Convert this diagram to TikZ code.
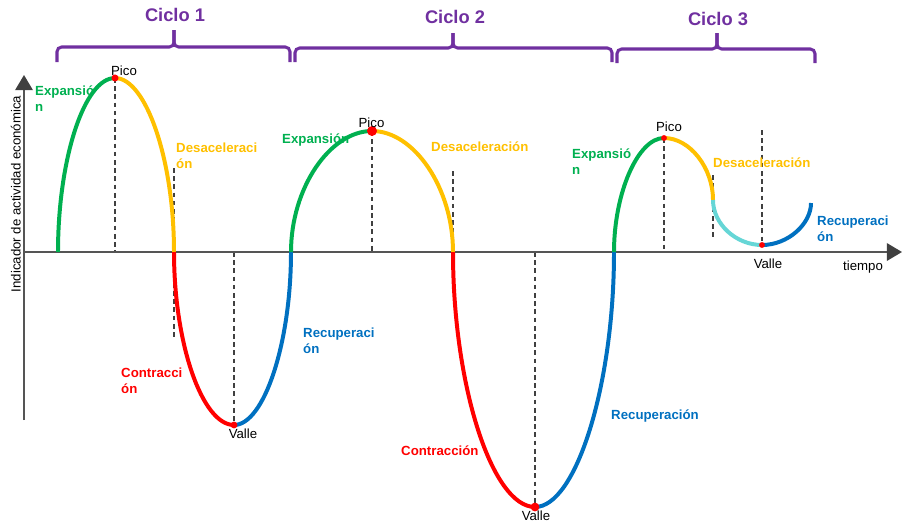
\documentclass[tikz,border=0pt]{standalone}
\usepackage{fontspec}
\setmainfont{Liberation Sans}
\usetikzlibrary{arrows.meta}
\definecolor{cgreen}{RGB}{0,176,80}
\definecolor{cyellow}{RGB}{255,192,0}
\definecolor{cred}{RGB}{255,0,0}
\definecolor{cblue}{RGB}{0,112,192}
\definecolor{ccyan}{RGB}{102,214,214}
\definecolor{cpurple}{RGB}{112,48,160}
\definecolor{caxis}{RGB}{85,85,85}
\definecolor{cdash}{RGB}{64,64,64}
\begin{document}
\begin{tikzpicture}[x=0.03cm,y=-0.03cm,
  curve/.style={line width=3.4pt},
  guide/.style={cdash, line width=0.9pt, dash pattern=on 4pt off 3pt},
  bracepath/.style={cpurple, line width=2.6pt, rounded corners=4pt},
  ciclo/.style={cpurple, font=\fontsize{15.6}{18}\selectfont\bfseries, inner sep=0pt, anchor=base},
  lbl/.style={font=\fontsize{11.3}{13.6}\selectfont\bfseries, inner sep=0pt, anchor=base west, align=left},
  plain/.style={font=\fontsize{11.3}{13.6}\selectfont, inner sep=0pt, anchor=base},
  reddot/.style={circle, fill=cred, inner sep=0pt, minimum size=#1},
]
\useasboundingbox (0,0) rectangle (902,529);

% key points
\coordinate (g1) at (58,252);
\coordinate (p1) at (115,78);
\coordinate (d1) at (174,252);
\coordinate (v1) at (234,425);
\coordinate (r1) at (291,252);
\coordinate (p2) at (372,131);
\coordinate (d2) at (453,252);
\coordinate (v2) at (535,507);
\coordinate (r2) at (614,252);
\coordinate (p3) at (664,138);
\coordinate (d3) at (713,200);
\coordinate (v3) at (762,245);
\coordinate (e3) at (811,203);

% guide ends
\coordinate (gd1t) at (174,168);
\coordinate (gd1b) at (174,340);
\coordinate (gd2t) at (453,171);
\coordinate (gp3b) at (664,250);
\coordinate (gd3t) at (713,175);
\coordinate (gd3b) at (713,238);
\coordinate (gv3t) at (762,130);

% axes
\coordinate (ybot) at (24,420);
\coordinate (ytop) at (24,75);
\coordinate (xleft) at (24,252);
\coordinate (xright) at (902,252);

% dashed guides
\draw[guide] (p1) -- (p1 |- d1);
\draw[guide] (gd1t) -- (gd1b);
\draw[guide] (v1 |- d1) -- (v1);
\draw[guide] (p2) -- (p2 |- d2);
\draw[guide] (gd2t) -- (d2);
\draw[guide] (v2 |- d2) -- (v2);
\draw[guide] (p3) -- (gp3b);
\draw[guide] (gd3t) -- (gd3b);
\draw[guide] (gv3t) -- (v3);

% axes
\draw[caxis, line width=1.6pt, -{Triangle[length=13pt,width=15pt,color=cdash]}] (ybot) -- (ytop);
\draw[caxis, line width=1.6pt, -{Triangle[length=13pt,width=15pt,color=cdash]}] (xleft) -- (xright);

% cycle 1
\draw[curve, cgreen]  (g1) .. controls (58,160) and (84,78) .. (p1);
\draw[curve, cyellow] (p1) .. controls (146,78) and (174,160) .. (d1);
\draw[curve, cred]    (d1) .. controls (174,343) and (202,425) .. (v1);
\draw[curve, cblue]   (v1) .. controls (264,425) and (291,343) .. (r1);
% cycle 2
\draw[curve, cgreen]  (r1) .. controls (291,188) and (330,131) .. (p2);
\draw[curve, cyellow] (p2) .. controls (414,131) and (453,188) .. (d2);
\draw[curve, cred]    (d2) .. controls (453,385) and (492,507) .. (v2);
\draw[curve, cblue]   (v2) .. controls (576,507) and (614,385) .. (r2);
% cycle 3
\draw[curve, cgreen]  (r2) .. controls (614,193) and (638,138) .. (p3);
\draw[curve, cyellow] (p3) .. controls (690,138) and (713,168) .. (d3);
\draw[curve, ccyan]   (d3) .. controls (713,224) and (736,245) .. (v3);
\draw[curve, cblue]   (v3) .. controls (788,245) and (811,224) .. (e3);

% dots
\node[reddot=6pt] (dp1) at (p1) {};
\node[reddot=5.8pt] (dv1) at (v1) {};
\node[reddot=8.5pt] (dp2) at (p2) {};
\node[reddot=7.5pt] (dv2) at (v2) {};
\node[reddot=5pt] (dp3) at (p3) {};
\node[reddot=5pt] (dv3) at (v3) {};

% braces
\draw[bracepath] (57,62) -- (57,47) -- (174,47) -- (174,30);
\draw[bracepath] (174,30) -- (174,47) -- (290,47) -- (290,62);
\draw[bracepath] (295,62) -- (295,48) -- (453,48) -- (453,33);
\draw[bracepath] (453,33) -- (453,48) -- (612,48) -- (612,62);
\draw[bracepath] (617,63) -- (617,49) -- (717,49) -- (717,33);
\draw[bracepath] (717,33) -- (717,49) -- (815,49) -- (815,63);

\node[ciclo] (c1) at (175,21) {Ciclo 1};
\node[ciclo] (c2) at (455,23) {Ciclo 2};
\node[ciclo] (c3) at (718,25) {Ciclo 3};

% labels cycle 1 (two-line labels anchored at the baseline of their last line)
\node[lbl, cgreen]  (l1a) at (35,111) {Expansió\\n};
\node[plain] (l1p) at (124,75) {Pico};
\node[lbl, cyellow] (l1d) at (176,168) {Desaceleraci\\ón};
\node[lbl, cred]    (l1c) at (121,393) {Contracci\\ón};
\node[plain] (l1v) at (243,438) {Valle};
\node[lbl, cblue]   (l1r) at (303,353) {Recuperaci\\ón};
% labels cycle 2
\node[lbl, cgreen]  (l2a) at (282,143) {Expansión};
\node[plain] (l2p) at (371.5,127) {Pico};
\node[lbl, cyellow] (l2d) at (431,151) {Desaceleración};
\node[lbl, cred]    (l2c) at (401,455) {Contracción};
\node[plain] (l2v) at (536,520) {Valle};
\node[lbl, cblue]   (l2r) at (611,419) {Recuperación};
% labels cycle 3
\node[lbl, cgreen]  (l3a) at (572,174) {Expansió\\n};
\node[plain] (l3p) at (669,131) {Pico};
\node[lbl, cyellow] (l3d) at (713,167) {Desaceleración};
\node[lbl, cblue]   (l3r) at (817,241) {Recuperaci\\ón};
\node[plain] (l3v) at (768,268) {Valle};

% axis labels
\node[plain] (tx) at (863,270) {tiempo};
\node[plain, rotate=90] (ty) at (20.5,194) {Indicador de actividad económica};
\end{tikzpicture}
\end{document}
